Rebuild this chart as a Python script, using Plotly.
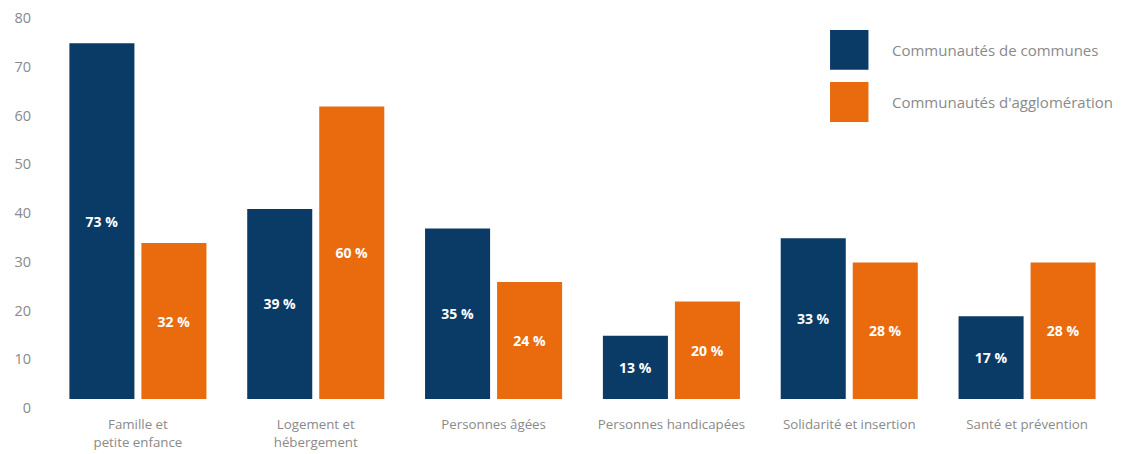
import plotly.graph_objects as go

categories = ["Famille et<br>petite enfance", "Logement et<br>hébergement", "Personnes âgées",
              "Personnes handicapées", "Solidarité et insertion", "Santé et prévention"]
series_names = ["Communautés de communes", "Communautés d'agglomération"]
cc_values = [73, 39, 35, 13, 33, 17]
ca_values = [32, 60, 24, 20, 28, 28]
y_ticks = [0, 10, 20, 30, 40, 50, 60, 70, 80]

NAVY = "#0a3a66"
ORANGE = "#ea6a0e"
GRAY = "#8a8a8a"
FONT = "Open Sans"

fig = go.Figure()
for name, vals, col in [(series_names[0], cc_values, NAVY), (series_names[1], ca_values, ORANGE)]:
    fig.add_trace(go.Bar(
        x=categories, y=vals, name=name, marker=dict(color=col, line=dict(width=0)),
        text=[f"{v} %" for v in vals], textposition="inside", insidetextanchor="middle",
        textfont=dict(color="white", size=14, family=FONT, weight="bold"),
        showlegend=False,
    ))

# manual legend (large square swatches)
legend_items = [(series_names[0], NAVY, 0.946, 0.844), (series_names[1], ORANGE, 0.813, 0.710)]
for name, col, y1, y0 in legend_items:
    fig.add_shape(type="rect", xref="paper", yref="paper", x0=0.732, x1=0.768, y0=y0, y1=y1,
                  fillcolor=col, line=dict(width=0))
    fig.add_annotation(xref="paper", yref="paper", x=0.788, y=(y0 + y1) / 2, text=name,
                       showarrow=False, xanchor="left", yanchor="middle",
                       font=dict(size=15, color=GRAY, family=FONT))

fig.update_layout(
    width=1125, height=454,
    margin=dict(l=41, r=17, t=1, b=63),
    paper_bgcolor="white", plot_bgcolor="white",
    barmode="group", bargap=0.19, bargroupgap=0.097,
    font=dict(family=FONT, color=GRAY, size=12),
)
fig.update_xaxes(showgrid=False, showline=False, zeroline=False, ticks="",
                 tickfont=dict(size=13.3, color=GRAY, family=FONT), ticklabelstandoff=16)
fig.update_yaxes(range=[0, 80], tickvals=y_ticks, showgrid=False, showline=False, zeroline=False,
                 ticks="", tickfont=dict(size=14.5, color=GRAY, family=FONT),
                 ticklabelstandoff=17, ticklabelshift=9)

fig.write_html("out.html")
